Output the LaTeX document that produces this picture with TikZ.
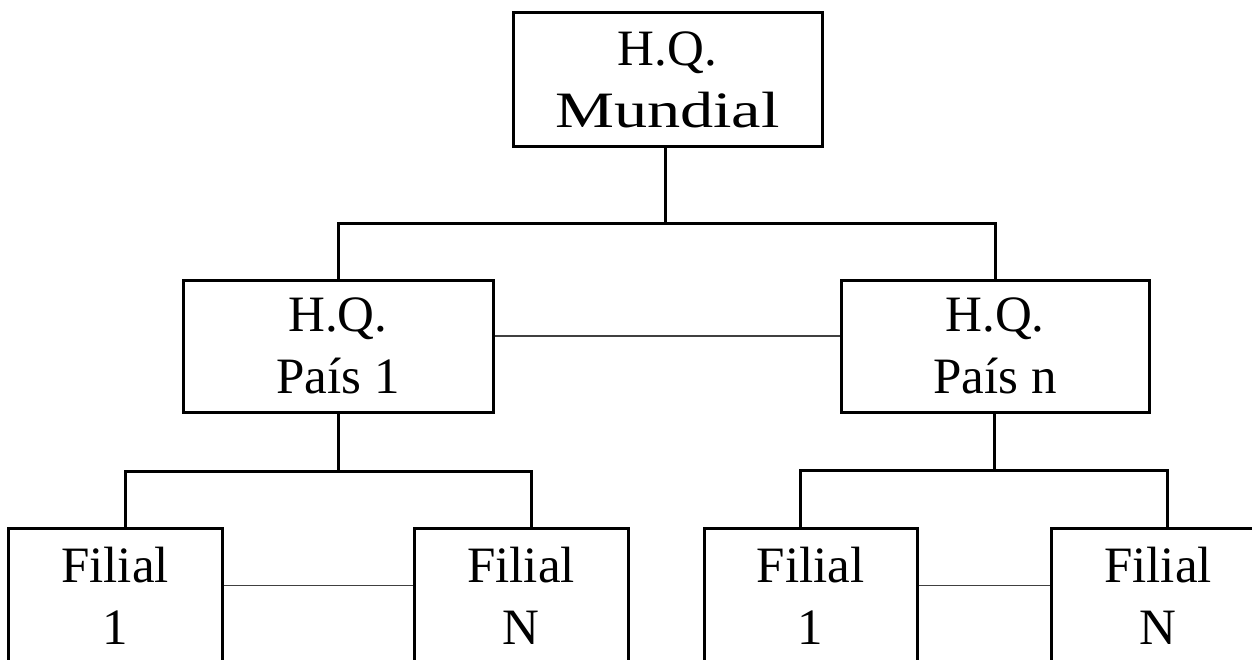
\documentclass[tikz,border=0pt]{standalone}
\usepackage{fontspec}
\setmainfont{Liberation Serif}
\begin{document}
\begin{tikzpicture}[x=1pt,y=-1pt,
  orgbox/.style={draw, line width=3pt, inner sep=0pt, align=center,
    minimum height=134, font=\fontsize{51}{62}\selectfont},
  tree/.style={line width=3pt},
  peer/.style={line width=1.5pt, draw=black!75}]
  \useasboundingbox (0,0) rectangle (1252,659);
  \clip (0,0) rectangle (1252,659);

  % headquarters
  \node[orgbox, minimum width=309] (top) at (667.5,79.5) {H.Q.\\\scalebox{1.3}[1]{Mundial}};
  \node[orgbox, minimum width=310, minimum height=132] (p1) at (338,346) {H.Q.\\País 1};
  \node[orgbox, minimum width=308, minimum height=132] (pn) at (995,346) {H.Q.\\País n};

  % subsidiaries (lower edge runs off the page)
  \node[orgbox, minimum width=214] (f1) at (115,595.5) {Filial\\1};
  \node[orgbox, minimum width=214] (fN) at (521,595.5) {Filial\\N};
  \node[orgbox, minimum width=213] (g1) at (810.5,595.5) {Filial\\1};
  \node[orgbox, minimum width=214] (gN) at (1158,595.5) {Filial\\N};

  % bus lines
  \coordinate (bus) at (665,223);
  \coordinate (busL) at (338,471);
  \coordinate (busR) at (994,470);

  \draw[tree] (top.south -| bus) -- (bus);
  \draw[tree] (p1.north) |- (bus) -| (pn.north);
  \draw[tree] (p1.south) -- (busL);
  \draw[tree] ([xshift=10pt]f1.north) |- (busL) -| ([xshift=10pt]fN.north);
  \draw[tree] (pn.south -| busR) -- (busR);
  \draw[tree] ([xshift=-10pt]g1.north) |- (busR) -| ([xshift=9pt]gN.north);

  % links between peers
  \draw[peer] ([yshift=10pt]p1.east) -- ([yshift=10pt]pn.west);
  \draw[peer] ([yshift=10pt]f1.east) -- ([yshift=10pt]fN.west);
  \draw[peer] ([yshift=10pt]g1.east) -- ([yshift=10pt]gN.west);
\end{tikzpicture}
\end{document}
